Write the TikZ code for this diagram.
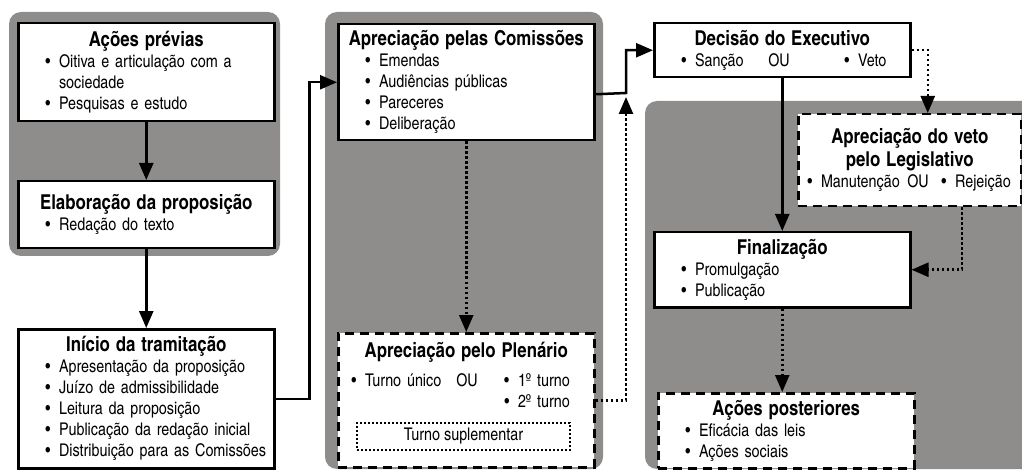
\documentclass[tikz,border=0pt]{standalone}
\usepackage{fontspec}
\setmainfont{texgyreheroscn}[Extension=.otf,UprightFont=*-regular,BoldFont=*-bold]
\usetikzlibrary{arrows.meta,calc}
\definecolor{cinzapainel}{RGB}{142,141,139}
\newcommand{\titulo}[1]{\makebox[\hsize][c]{\fontsize{20.5}{21}\selectfont\bfseries #1}}
\newcommand{\topico}[1]{\hspace*{19pt}\textbullet\enspace #1}
\newcommand{\continua}[1]{\hspace*{19pt}\hphantom{\textbullet\enspace}#1}
\tikzset{
	painel/.style={
		fill=cinzapainel,
		rounded corners=12pt
	},
	caixa/.style={
		draw,
		line width=2.5pt,
		fill=white,
		anchor=north west,
		font=\fontsize{17.5}{21}\selectfont,
		align=left,
		text width=240pt,
		inner xsep=8pt,
		inner ysep=0pt,
		minimum width=256pt,
		minimum height=#1
	},
	caixa tracejada/.style={
		caixa=#1,
		dash pattern=on 9pt off 6pt
	},
	seta/.style={
		line width=2.5pt,
		-{Triangle[length=17pt,width=14pt]}
	},
	seta pontilhada/.style={
		seta,
		dash pattern=on 2.5pt off 2.5pt
	}
}
\begin{document}
\begin{tikzpicture}[x=1pt,y=-1pt]
	\useasboundingbox (0,0) rectangle (1022,470);
	\fill[painel] (9,12) rectangle (280,256);
	\fill[painel] (325,12) rectangle (603,469);
	\fill[painel] (645,101) rectangle (1036,469);
	\node[caixa=98pt] (previas) at (17,22) {\titulo{Ações prévias}\\
		\topico{Oitiva e articulação com a}\\
		\continua{sociedade}\\
		\topico{Pesquisas e estudo}};
	\node[caixa=67pt] (elaboracao) at (17,180) {\titulo{Elaboração da proposição}\\
		\topico{Redação do texto}};
	\node[caixa=139pt] (inicio) at (17,328) {\titulo{Início da tramitação}\\
		\topico{Apresentação da proposição}\\
		\topico{Juízo de admissibilidade}\\
		\topico{Leitura da proposição}\\
		\topico{Publicação da redação inicial}\\
		\topico{Distribuição para as Comissões}};
	\node[caixa=116pt] (comissoes) at (337,23) {\titulo{Apreciação pelas Comissões}\\
		\topico{Emendas}\\
		\topico{Audiências públicas}\\
		\topico{Pareceres}\\
		\topico{Deliberação}};
	\node[caixa tracejada=134pt] (plenario) at (337,332) {\titulo{Apreciação pelo Plenário}\\[8pt]
		\hspace*{5pt}\makebox[105pt][l]{\textbullet\enspace Turno único}\makebox[48pt][l]{OU}\textbullet\enspace 1º turno\\
		\hspace*{158pt}\textbullet\enspace 2º turno\rule[-50pt]{0pt}{1pt}};
	\node[draw, line width=2pt, dash pattern=on 2pt off 2pt, minimum width=213pt, minimum height=27pt,
		font=\fontsize{17.5}{21}\selectfont] (suplementar) at (463.5,436.5) {Turno suplementar};
	\node[caixa=54pt] (decisao) at (653,22) {\titulo{Decisão do Executivo}\\
		\hspace*{19pt}\makebox[87pt][l]{\textbullet\enspace Sanção}\makebox[76pt][l]{OU}\textbullet\enspace Veto};
	\node[caixa tracejada=92pt, text width=211pt, inner xsep=6pt, minimum width=223pt] (veto) at (797,113) {\titulo{Apreciação do veto}\\[2pt]
		\titulo{pelo Legislativo}\\
		\hspace*{3pt}\makebox[100pt][l]{\textbullet\enspace Manutenção}\makebox[34pt][l]{OU}\textbullet\enspace Rejeição};
	\node[caixa=75pt] (finalizacao) at (653,231) {\titulo{Finalização}\\
		\topico{Promulgação}\\
		\topico{Publicação}};
	\node[caixa tracejada=75pt] (posteriores) at (657,392) {\titulo{Ações posteriores}\\
		\topico{Eficácia das leis}\\
		\topico{Ações sociais}};
	\coordinate (juncao) at (626,93);
	\coordinate (juncao+) at (626,97);
	\draw[seta] (previas) -- (elaboracao);
	\draw[seta] (elaboracao) -- (inicio);
	\draw[seta] (inicio.east) -- ++(34,0) |- (comissoes.west);
	\draw[seta] ([yshift=-12pt]comissoes.east) -- (juncao) |- (decisao.west);
	\draw[seta pontilhada] (comissoes.south) -- (plenario.north);
	\draw[seta pontilhada] (plenario.east) -| (juncao+);
	\draw[seta pontilhada] (decisao.east) -| ([xshift=18pt]veto.north);
	\draw[seta] (decisao.south) -- (finalizacao.north);
	\draw[seta pontilhada] ([xshift=52pt]veto.south) |- (finalizacao.east);
	\draw[seta pontilhada] (finalizacao.south) -- (finalizacao.south |- posteriores.north);
\end{tikzpicture}
\end{document}
